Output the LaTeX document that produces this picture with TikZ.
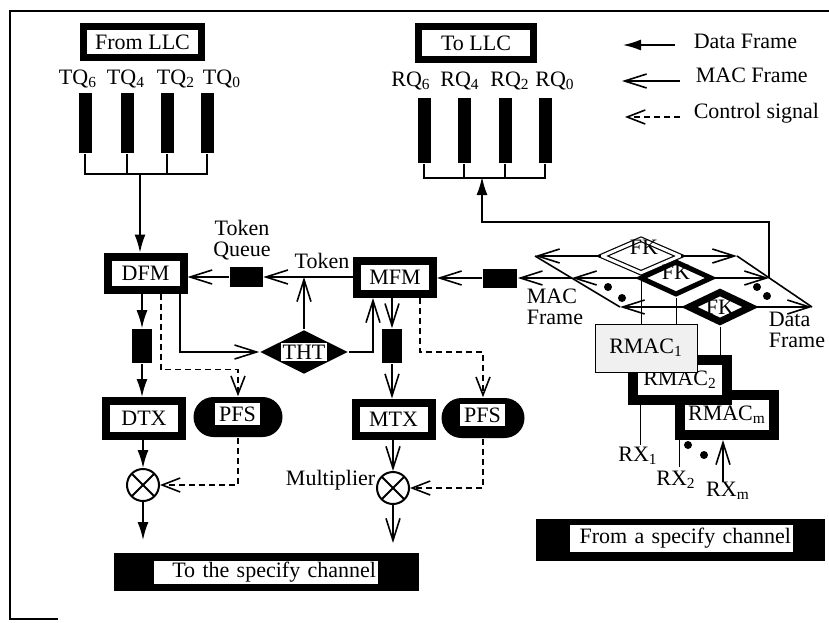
\documentclass[tikz,border=0pt]{standalone}
\usepackage{fontspec}
\setmainfont{Liberation Serif}
\usetikzlibrary{arrows.meta,calc,shapes.geometric,backgrounds}

\begin{document}
\begin{tikzpicture}[x=0.5pt, y=-0.5pt, line width=0.8pt,
  every node/.style={font=\fontsize{11}{10.5}\selectfont, inner sep=1pt},
  data/.style={-{Latex[length=9pt,width=5.5pt]}},
  mac/.style={-{Straight Barb[length=11pt,width=7pt]}},
  ctrl/.style={dash pattern=on 3pt off 2pt, -{Straight Barb[length=9pt,width=7pt]}},
  framed/.style={draw, fill=white, line width=4pt, minimum width=38pt, minimum height=16.5pt},
  blk/.style={fill=black, inner sep=0pt},
  qbar/.style={blk, minimum width=6.5pt, minimum height=30pt},
  inbox/.style={fill=white, inner sep=1pt},
  fk/.style={diamond, fill=white, draw, inner sep=0pt},
  mult/.style={circle, draw, line width=1pt, minimum size=16pt, inner sep=0pt,
    path picture={\draw (path picture bounding box.north west) -- (path picture bounding box.south east)
      (path picture bounding box.south west) -- (path picture bounding box.north east);}}]
\useasboundingbox (0,0) rectangle (829,622);
\draw[line width=1.3pt] (829,11) -- (10,11) -- (10,619) -- (58,619);

% LLC queues
\node[framed, line width=3.5pt, minimum width=59pt, minimum height=15.5pt] (fromllc) at (142.5,42) {From LLC};
\node[framed, line width=3.5pt, minimum width=57.5pt, minimum height=16.5pt] (tollc) at (476,43) {To LLC};
\foreach \n/\x in {6/85,4/127,2/167,0/207} \node[qbar] (tq\n) at (\x,123) {};
\foreach \n/\x in {6/78,4/126,2/176,0/222} \node (tql\n) at (\x,79) {TQ\textsubscript{\n}};
\foreach \n/\x in {6/424,4/464,2/505,0/545} \node[qbar, minimum height=32.5pt] (rq\n) at (\x,130.5) {};
\foreach \n/\x in {6/411,4/460,2/510,0/555} \node (rql\n) at (\x,81) {RQ\textsubscript{\n}};

% legend
\coordinate (lgd1) at (675,45); \coordinate (lgd2) at (623,45);
\coordinate (lgm1) at (680,81); \coordinate (lgm2) at (622,81);
\coordinate (lgc1) at (680,117); \coordinate (lgc2) at (625,117);
\draw[data] (lgd1) -- (lgd2);
\draw[mac] (lgm1) -- (lgm2);
\draw[ctrl] (lgc1) -- (lgc2);
\node[anchor=west] (lgdl) at (691,41) {Data Frame};
\node[anchor=west] (lgml) at (693,75) {MAC Frame};
\node[anchor=west] (lgcl) at (691,113) {Control signal};

% transmit side
\node[framed] (dfm) at (145.5,273) {DFM};
\node[framed] (mfm) at (395,277.5) {MFM};
\node[framed, minimum height=17.5pt] (dtx) at (144,418.5) {DTX};
\node[framed] (mtx) at (393.5,419) {MTX};
\node[blk, minimum width=16.5pt, minimum height=10pt] (tokq) at (246,277) {};
\node[align=center] (tokql) at (242,240) {Token\\Queue};
\node (tokl) at (322,261) {Token};
\node[diamond, fill=black, inner sep=0pt, minimum width=44pt, minimum height=22pt] (tht) at (304,352) {};
\node[inbox] (thtl) at (tht) {THT};
\node[blk, minimum width=10pt, minimum height=17pt] (dblk) at (142,346) {};
\node[blk, minimum width=10pt, minimum height=17pt] (mblk) at (392,346) {};
\node[blk, rounded corners=10pt, minimum width=44.5pt, minimum height=20pt] (pfs1) at (238,417) {};
\node[inbox, minimum width=22.5pt, minimum height=11pt] (pfs1l) at (237.5,414) {PFS};
\node[blk, rounded corners=10pt, minimum width=41.5pt, minimum height=20pt] (pfs2) at (483,418) {};
\node[inbox, minimum width=22.5pt, minimum height=11pt] (pfs2l) at (482.5,415) {PFS};
\node[mult] (mul1) at (143,485) {};
\node[mult] (mul2) at (393,488) {};
\node[anchor=east, inner sep=0pt] (mull) at ([yshift=4pt]mul2.west) {Multiplier};
\coordinate (out1) at (143,540);
\coordinate (out2) at (393,543);
\node[blk, minimum width=152.5pt, minimum height=19pt] (tochan) at (266.5,572) {};
\node[inbox, text width=110pt, align=right, inner ysep=0.5pt] (tochanl) at (266,572.5) {To the specify channel};

% receive side
\node[blk, minimum width=17pt, minimum height=9.5pt] (macq) at (500,278) {};
\node[fk, line width=3.5pt, minimum width=32pt, minimum height=16pt] (fk3) at (720,307) {};
\node[fk, line width=2.5pt, minimum width=36pt, minimum height=17pt] (fk2) at (676,278) {};
\node[fk, double, double distance=1.5pt, line width=0.6pt, minimum width=39pt, minimum height=17pt] (fk1) at (641,256) {};
\node (fk1l) at (644,247) {FK};
\node (fk2l) at (676,272) {FK};
\node (fk3l) at (720,307) {FK};
\node[framed, line width=5pt, minimum width=47pt, minimum height=20pt] (rmacm) at (727,415) {RMAC\textsubscript{m}};
\node[framed, line width=5pt, minimum width=47pt, minimum height=20pt] (rmac2) at (680,380) {RMAC\textsubscript{2}};
\node[draw, line width=0.4pt, fill=gray!12, minimum width=51pt, minimum height=24pt] (rmac1) at (646,348) {RMAC\textsubscript{1}};
\node[align=left] (macl) at (555,307) {MAC\\Frame};
\node[align=left, anchor=west] (datl) at (766,330) {Data\\Frame};
\coordinate (macL1) at (535,256); \coordinate (macL2) at (572,278); \coordinate (macL3) at (620,307);
\coordinate (datR1) at (737,256); \coordinate (datR2) at (769,278); \coordinate (datR3) at (812,307);
\coordinate (rx1) at (640,445); \coordinate (rx2) at (679,467); \coordinate (rxm) at (723,482);
\node (rx1l) at (638,456) {RX\textsubscript{1}};
\node (rx2l) at (676,480) {RX\textsubscript{2}};
\node (rxml) at (728,491) {RX\textsubscript{m}};
\node[blk, minimum width=144.5pt, minimum height=21pt] (fromchan) at (680.5,540) {};
\node[inbox, text width=109.5pt, align=right, inner ysep=1.5pt] (fromchanl) at (681.5,538.5) {From a specify channel};

% queue wiring
\draw (tq6.south) -- ++(0,20) -| (tq0.south);
\foreach \n in {4,2} \draw (tq\n.south) -- ++(0,20);
\coordinate (tqj) at (140,173);
\draw[data] (tqj) -- (tqj |- dfm.north);
\draw (rq6.south) -- ++(0,14) -| (rq0.south);
\foreach \n in {4,2} \draw (rq\n.south) -- ++(0,14);
\coordinate (rqj) at (482,177);
\draw[data] (datR2) -- ++(0,-56) -| (rqj);

% token and THT
\draw[mac] (mfm.west |- tokq) -- (tokq.east);
\draw[mac] (tokq.west) -- (tokq.west -| dfm.east);
\draw[mac] (tht.north) -- (tht.north |- tokq.east);
\draw[mac] ([xshift=17.25pt]dfm.south) |- (tht.west);
\draw[mac] (tht.east) -| ([xshift=-11pt]mfm.south);

% frames out
\draw[data] (dblk.north |- dfm.south) -- (dblk.north);
\draw[data] (dblk.south) -- (dblk.south |- dtx.north);
\draw[data] (mul1.north |- dtx.south) -- (mul1.north);
\draw[data] (mul1.south) -- (out1);
\draw[mac] (mblk.north |- mfm.south) -- (mblk.north);
\draw[mac] (mblk.south) -- (mblk.south |- mtx.north);
\draw[mac] (mul2.north |- mtx.south) -- (mul2.north);
\draw[mac] (mul2.south) -- (out2);

% control signals
\draw[ctrl] ([xshift=7.75pt]dfm.south) -- ++(0,76) -| (pfs1.north);
\draw[ctrl] ([xshift=12.5pt]mfm.south) -- ++(0,54) -| (pfs2.north);
\draw[ctrl] (pfs1.south) |- (mul1.east);
\draw[ctrl] (pfs2.south) |- (mul2.east);

% frames in
\draw[mac] (macq.west) -- (macq.west -| mfm.east);
\draw[mac] (macL2) -- (macq.east);
\draw[mac] (fk1.west) -- (macL1);
\draw[mac] (fk2.west) -- (macL2);
\draw[mac] (fk3.west) -- (macL3);
\draw (macL1) -- (macL3);
\draw[mac] (fk1.east) -- (datR1);
\draw[mac] (fk2.east) -- (datR2);
\draw[mac] (fk3.east) -- (datR3);
\draw (datR1) -- (datR3);
\draw[mac] (rxm) -- (rxm |- rmacm.south);
\foreach \p in {(608,287),(622,298),(757,287),(767,296),(688,445),(704,455)} \fill \p circle (2pt);

\begin{scope}[on background layer]
\draw (fk1.south) -- (fk1.south |- rmac1.north);
\draw (fk2.south) -- (fk2.south |- rmac2.north);
\draw (fk3.south) -- (fk3.south |- rmacm.north);
\draw (rx1) -- (rx1 |- rmac1.south);
\draw (rx2) -- (rx2 |- rmac2.south);
\end{scope}
\end{tikzpicture}
\end{document}
